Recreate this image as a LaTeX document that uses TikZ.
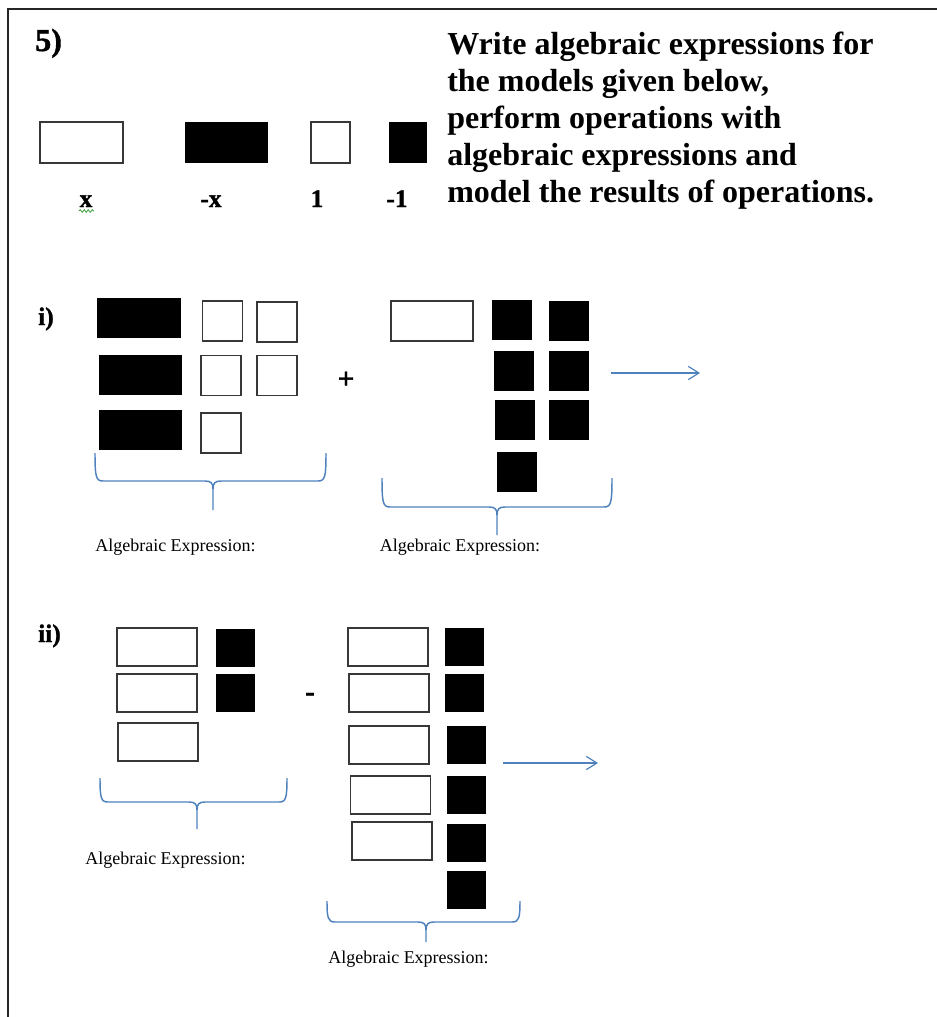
\documentclass[tikz,border=0pt]{standalone}
\usepackage{fontspec}
\setmainfont{Liberation Serif}
\newfontfamily\heavyfont{Liberation Serif Bold}[FakeBold=1.2]
\usetikzlibrary{arrows.meta,decorations.pathmorphing}
\definecolor{braceblue}{RGB}{79,129,189}
\definecolor{tileline}{RGB}{55,55,55}
\definecolor{squiggle}{RGB}{60,160,60}
\newcommand{\drawbrace}[6]{% L, R, top, bottom, middle, tip
  \draw[bracestyle] (#1,#3) .. controls (#1,#4-4) and (#1+1,#4) .. (#1+8,#4)
    -- (#5-8,#4) .. controls (#5-2,#4) and (#5,#4+2) .. (#5,#4+8) -- (#5,#6);
  \draw[bracestyle] (#5,#4+8) .. controls (#5,#4+2) and (#5+2,#4) .. (#5+8,#4)
    -- (#2-8,#4) .. controls (#2-1,#4) and (#2,#4-4) .. (#2,#3);
}
\begin{document}
\begin{tikzpicture}[x=0.75pt,y=-0.75pt,
  postile/.style={draw=tileline,line width=1pt,fill=white,inner sep=0pt,outer sep=0pt},
  negtile/.style={fill=black,inner sep=0pt,outer sep=0pt},
  tsize/.style 2 args={minimum width={#1*0.75pt},minimum height={#2*0.75pt}},
  wideA/.style={tsize={83}{40}},
  sqA/.style={tsize={40}{40}},
  wideB/.style={tsize={80}{38}},
  sqB/.style={tsize={39}{38}},
  bigbold/.style={inner sep=0pt,font=\fontsize{24pt}{27.75pt}\selectfont\bfseries},
  numbold/.style={inner sep=0pt,font=\heavyfont\fontsize{24pt}{27.75pt}\selectfont},
  midbold/.style={inner sep=0pt,font=\heavyfont\fontsize{19pt}{22pt}\selectfont},
  signbold/.style={inner sep=0pt,font=\heavyfont\fontsize{22pt}{24pt}\selectfont},
  exprtext/.style={inner sep=0pt,font=\fontsize{13.5pt}{16pt}\selectfont},
  bracestyle/.style={draw=braceblue,line width=1.1pt},
  arrowstyle/.style={draw=braceblue,line width=0.9pt,-{Straight Barb[length=8pt,width=10pt]}},
  framestyle/.style={draw=black!85,line width=1.4pt}
]
\useasboundingbox (0,0) rectangle (937,1017);
% frame
\draw[framestyle] (937,9) -- (8,9) -- (8,1017);

% heading
\node[numbold,anchor=base west] (num) at (35,51) {5)};
\node[bigbold,anchor=north west,align=left] (title) at (447,32)
  {Write algebraic expressions for\\the models given below,\\perform operations with\\algebraic expressions and\\model the results of operations.};

% legend
\node[postile,tsize={83}{41}] (lx) at (81.5,142.5) {};
\node[negtile,tsize={83}{41}] (lnx) at (226.5,142.5) {};
\node[postile,tsize={39}{41}] (l1) at (330.5,142.5) {};
\node[negtile,tsize={38}{41}] (ln1) at (408,142.5) {};
\node[midbold,anchor=base] (tx) at (86,207) {x};
\node[midbold,anchor=base] (tnx) at (211,207) {-x};
\node[midbold,anchor=base] (t1) at (317,207) {1};
\node[midbold,anchor=base] (tn1) at (397,207) {-1};
\draw[squiggle,line width=0.6pt,decorate,decoration={snake,amplitude=1pt,segment length=3pt}] (79,211) -- (94,211);

% part i
\node[midbold,anchor=base west] (pi) at (38,325) {i)};
\node[negtile,tsize={84}{40}] (a1) at (139,318) {};
\node[postile,sqA] (a2) at (222.5,321) {};
\node[postile,sqA] (a3) at (277,322) {};
\node[negtile,wideA] (a4) at (140.5,375) {};
\node[postile,sqA] (a5) at (221,375.5) {};
\node[postile,sqA] (a6) at (277,375.5) {};
\node[negtile,wideA] (a7) at (140.5,430) {};
\node[postile,sqA] (a8) at (221,433) {};
\node[signbold] (plus) at (346,380) {+};
\node[postile,tsize={82}{40}] (b1) at (432,321) {};
\node[negtile,sqA] (b2) at (512,319.5) {};
\node[negtile,sqA] (b3) at (568.5,320.5) {};
\node[negtile,sqA] (b4) at (513.5,371) {};
\node[negtile,sqA] (b5) at (568.5,371) {};
\node[negtile,sqA] (b6) at (515,420) {};
\node[negtile,sqA] (b7) at (568.5,420) {};
\node[negtile,sqA] (b8) at (517,472) {};
\coordinate (ia) at (611,373);
\coordinate (ib) at (700,373);
\draw[arrowstyle] (ia) -- (ib);
\drawbrace{95}{326}{453}{481}{213}{510}
\drawbrace{382}{612}{478}{507}{497}{535}
\node[exprtext] (ei1) at (175.5,547.5) {Algebraic Expression:};
\node[exprtext] (ei2) at (460,547.5) {Algebraic Expression:};

% part ii
\node[midbold,anchor=base west] (pii) at (38,642) {ii)};
\node[postile,wideB] (c1) at (157,647) {};
\node[postile,wideB] (c2) at (157,693) {};
\node[postile,wideB] (c3) at (158,742) {};
\node[negtile,sqB] (c4) at (235.5,647.5) {};
\node[negtile,sqB] (c5) at (235.5,693) {};
\node[signbold] (minus) at (310,697) {-};
\node[postile,wideB] (d1) at (388,647) {};
\node[postile,wideB] (d2) at (389,693) {};
\node[postile,wideB] (d3) at (389,745) {};
\node[postile,wideB] (d4) at (390.5,795) {};
\node[postile,wideB] (d5) at (392,841) {};
\node[negtile,sqB] (e1) at (464.5,647) {};
\node[negtile,sqB] (e2) at (464.5,693) {};
\node[negtile,sqB] (e3) at (466,745) {};
\node[negtile,sqB] (e4) at (466,795) {};
\node[negtile,sqB] (e5) at (466,842.5) {};
\node[negtile,sqB] (e6) at (466,889.5) {};
\coordinate (iia) at (503,763);
\coordinate (iib) at (598,763);
\draw[arrowstyle] (iia) -- (iib);
\drawbrace{100}{287}{778}{802}{197}{829}
\drawbrace{327}{520}{901}{922}{426}{942}
\node[exprtext] (eii1) at (165.5,860) {Algebraic Expression:};
\node[exprtext] (eii2) at (408.5,959.5) {Algebraic Expression:};
\end{tikzpicture}
\end{document}
